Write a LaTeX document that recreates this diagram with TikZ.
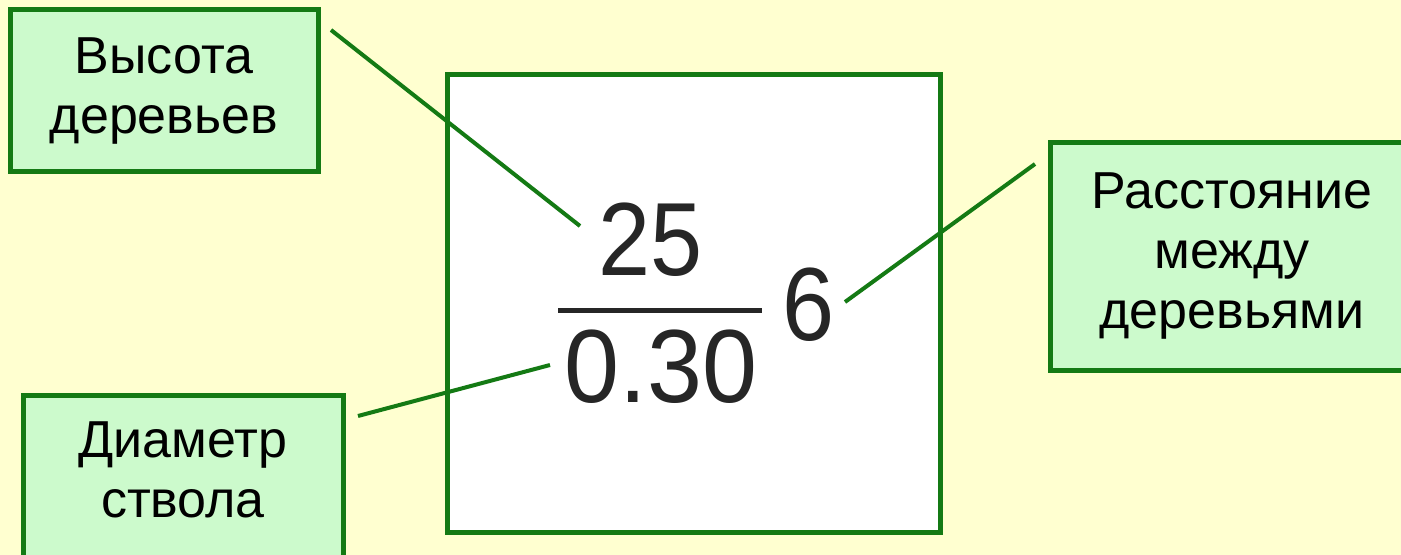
\documentclass[tikz,border=0pt]{standalone}
\usepackage{fontspec}
\setmainfont{Liberation Sans}
\usepackage{graphicx}
\definecolor{bg}{RGB}{255,255,208}
\definecolor{boxfill}{RGB}{204,250,204}
\definecolor{grn}{RGB}{20,122,20}
\begin{document}
\begin{tikzpicture}[x=0.5pt,y=-0.5pt,
  lblbox/.style={draw=grn, line width=2.5pt, fill=boxfill, inner sep=0pt, align=center, font=\fontsize{26}{30}\selectfont},
  lbl/.style={font=\fontsize{26}{30}\selectfont, align=center, inner sep=0pt},
  conn/.style={draw=grn, line width=2pt},
  digit/.style={font=\fontsize{52}{52}\selectfont, inner sep=0pt, text=black!85}]
\useasboundingbox (0,0) rectangle (1401,555);
\clip (0,0) rectangle (1401,555);
\fill[bg] (0,0) rectangle (1401,555);

% label boxes
\node[lblbox, minimum width=154pt, minimum height=81pt] (hbox) at (164,91) {Высота\\деревьев};
\node[lblbox, minimum width=182pt, minimum height=113.5pt] (rbox) at (1232,256.5) {Расстояние\\между\\деревьями};
\node[lblbox, minimum width=160pt, minimum height=92.5pt] (dbox) at (183,487.5) {};
\node[lbl] (dtxt) at (183,470) {Диаметр\\ствола};

% central box
\node[draw=grn, line width=2.5pt, fill=white, minimum width=246.5pt, minimum height=228.5pt, inner sep=0pt] (cbox) at (693.5,303.5) {};

% fraction
\node[digit] (num) at (651,240) {\scalebox{0.9}[1]{25}};
\coordinate (barL) at (558,311);
\coordinate (barR) at (762,311);
\draw[line width=2.5pt, black!85] (barL) -- (barR);
\node[digit] (den) at (661,367) {\scalebox{0.95}[1]{0.30}};
\node[digit] (six) at (809,305) {\scalebox{0.9}[1]{6}};

% connectors
\coordinate (h1) at (331,30);
\coordinate (h2) at (580,226);
\draw[conn] (h1) -- (h2);
\coordinate (r1) at (1035,164);
\coordinate (r2) at (845,302);
\draw[conn] (r1) -- (r2);
\coordinate (d1) at (358,416);
\coordinate (d2) at (550,365);
\draw[conn] (d1) -- (d2);
\end{tikzpicture}
\end{document}
